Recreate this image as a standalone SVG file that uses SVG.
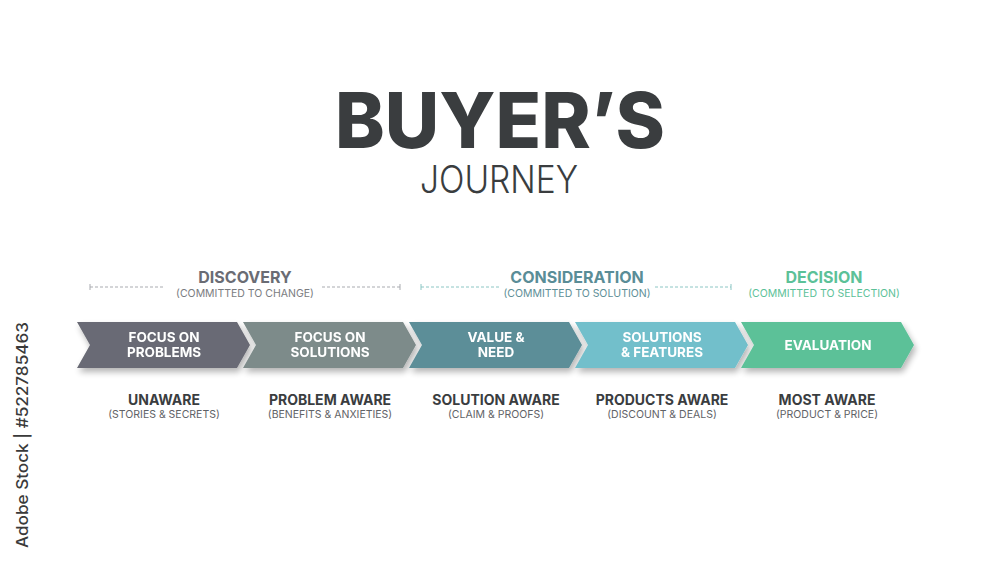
<svg xmlns="http://www.w3.org/2000/svg" width="1000" height="563" viewBox="0 0 1000 563">
<defs>
<style>
.t{font-family:Inter,"Open Sans","Liberation Sans",sans-serif}
.cw{fill:#fff;font-size:13.5px;font-weight:700;text-anchor:middle}
.lb{fill:#3a3d3f;font-size:14px;font-weight:700;text-anchor:middle}
.sb{fill:#5f6266;font-size:10.5px;font-weight:400;text-anchor:middle}
.hd{font-size:16px;font-weight:700;text-anchor:middle}
.hs{font-size:10.5px;font-weight:400;text-anchor:middle}
.dl{stroke-width:1;stroke-dasharray:3 2;fill:none}
.tk{stroke-width:1;fill:none}
</style>
<filter id="sh" x="-10%" y="-20%" width="120%" height="160%">
<feGaussianBlur in="SourceAlpha" stdDeviation="3"/>
<feOffset dx="2" dy="4" result="b"/>
<feComponentTransfer><feFuncA type="linear" slope="0.3"/></feComponentTransfer>
<feMerge><feMergeNode/><feMergeNode in="SourceGraphic"/></feMerge>
</filter>
<path id="chev" d="M0,322 L160,322 L173,345 L160,368 L0,368 L13,345 Z" stroke-linejoin="round"/>
</defs>
<rect width="1000" height="563" fill="#fff"/>

<g id="title">
<text class="t" x="500" y="148" text-anchor="middle" font-size="77" font-weight="800" fill="#3a3d3f" textLength="330" lengthAdjust="spacingAndGlyphs">BUYER’S</text>
<text class="t" x="499" y="193" text-anchor="middle" font-size="38" font-weight="300" fill="#3a3d3f" textLength="158" lengthAdjust="spacingAndGlyphs">JOURNEY</text>
</g>

<g id="watermark">
<text class="t" transform="translate(28,435) rotate(-90)" text-anchor="middle" font-size="15.5" font-weight="500" fill="#3a3a3a" textLength="226" lengthAdjust="spacingAndGlyphs">Adobe Stock | #522785463</text>
</g>

<g id="connectors">
<path class="dl" stroke="#a9abb0" d="M90,287 H163 M322,287 H400"/>
<path class="tk" stroke="#a9abb0" d="M90,284 V290 M400,284 V290"/>
<path class="dl" stroke="#8cc6c4" d="M421,287 H500 M655,287 H731"/>
<path class="tk" stroke="#8cc6c4" d="M421,284 V290 M731,284 V290"/>
</g>

<g id="stage-discovery">
<text class="t hd" x="245" y="283" fill="#6a6c74">DISCOVERY</text>
<text class="t hs" x="245" y="297" fill="#7a7c80">(COMMITTED TO CHANGE)</text>
</g>
<g id="stage-consideration">
<text class="t hd" x="577" y="283" fill="#5a8d97">CONSIDERATION</text>
<text class="t hs" x="577" y="297" fill="#5e8f97">(COMMITTED TO SOLUTION)</text>
</g>
<g id="stage-decision">
<text class="t hd" x="824" y="283" fill="#5cc198">DECISION</text>
<text class="t hs" x="824" y="297" fill="#5cc198">(COMMITTED TO SELECTION)</text>
</g>

<g id="step1" filter="url(#sh)">
<use href="#chev" x="77" fill="#696b74"/>
<text class="t cw" x="164" y="342">FOCUS ON</text>
<text class="t cw" x="164" y="357">PROBLEMS</text>
</g>
<g id="step2" filter="url(#sh)">
<use href="#chev" x="243" fill="#7d8b8a"/>
<text class="t cw" x="330" y="342">FOCUS ON</text>
<text class="t cw" x="330" y="357">SOLUTIONS</text>
</g>
<g id="step3" filter="url(#sh)">
<use href="#chev" x="409" fill="#5b8e98"/>
<text class="t cw" x="496" y="342">VALUE &amp;</text>
<text class="t cw" x="496" y="357">NEED</text>
</g>
<g id="step4" filter="url(#sh)">
<use href="#chev" x="575" fill="#72bfcb"/>
<text class="t cw" x="662" y="342">SOLUTIONS</text>
<text class="t cw" x="662" y="357">&amp; FEATURES</text>
</g>
<g id="step5" filter="url(#sh)">
<use href="#chev" x="741" fill="#5cc198"/>
<text class="t cw" x="828" y="350">EVALUATION</text>
</g>

<g id="label1">
<text class="t lb" x="164" y="405">UNAWARE</text>
<text class="t sb" x="164" y="418">(STORIES &amp; SECRETS)</text>
</g>
<g id="label2">
<text class="t lb" x="330" y="405">PROBLEM AWARE</text>
<text class="t sb" x="330" y="418">(BENEFITS &amp; ANXIETIES)</text>
</g>
<g id="label3">
<text class="t lb" x="496" y="405">SOLUTION AWARE</text>
<text class="t sb" x="496" y="418">(CLAIM &amp; PROOFS)</text>
</g>
<g id="label4">
<text class="t lb" x="662" y="405">PRODUCTS AWARE</text>
<text class="t sb" x="662" y="418">(DISCOUNT &amp; DEALS)</text>
</g>
<g id="label5">
<text class="t lb" x="827" y="405">MOST AWARE</text>
<text class="t sb" x="827" y="418">(PRODUCT &amp; PRICE)</text>
</g>
</svg>
